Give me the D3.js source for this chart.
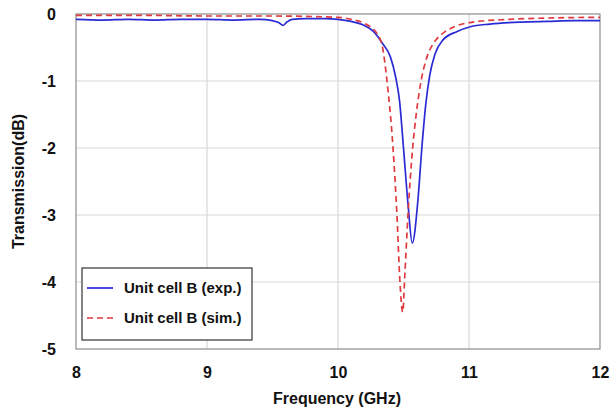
<!DOCTYPE html>
<html>
<head>
<meta charset="utf-8">
<script src="https://cdn.jsdelivr.net/npm/d3@7"></script>
<style>
  body { margin: 0; background: #fff; }
  text { font-family: "Liberation Sans", Arial, sans-serif; font-weight: bold; fill: #111; }
</style>
</head>
<body>
<svg id="chart" width="614" height="408"></svg>
<script>
// values
var xTicks = [8, 9, 10, 11, 12];
var yTicks = [0, -1, -2, -3, -4, -5];

var expFreq = [8.0, 8.2, 8.4, 8.6, 8.8, 9.0, 9.2, 9.4, 9.5, 9.55, 9.58, 9.61, 9.65, 9.75, 9.9,
  10.0, 10.1, 10.19, 10.27, 10.34, 10.40, 10.44, 10.47, 10.50, 10.535, 10.567,
  10.61, 10.64, 10.67, 10.70, 10.74, 10.80, 10.91, 11.01, 11.16, 11.4, 11.6, 11.8, 12.0];
var expVal = [-0.08, -0.09, -0.08, -0.09, -0.08, -0.08, -0.09, -0.08, -0.1, -0.13, -0.17, -0.12, -0.08, -0.07, -0.07,
  -0.08, -0.11, -0.16, -0.26, -0.44, -0.64, -0.94, -1.3, -2.0, -2.85, -3.42,
  -2.78, -2.0, -1.35, -0.92, -0.6, -0.39, -0.26, -0.19, -0.15, -0.12, -0.11, -0.1, -0.1];

var simFreq = [8.0, 8.5, 9.0, 9.5, 10.0, 10.1, 10.2, 10.3, 10.34, 10.374, 10.42, 10.45, 10.473, 10.494,
  10.51, 10.534, 10.57, 10.6, 10.634, 10.67, 10.71, 10.75, 10.82, 10.9, 11.03, 11.3, 11.6, 12.0];
var simVal = [-0.02, -0.02, -0.03, -0.03, -0.05, -0.08, -0.14, -0.3, -0.5, -1.0, -2.0, -3.0, -4.0, -4.45,
  -3.9, -3.0, -2.0, -1.45, -1.0, -0.7, -0.5, -0.38, -0.26, -0.18, -0.12, -0.08, -0.06, -0.05];

var seriesNames = ["Unit cell B (exp.)", "Unit cell B (sim.)"];
var seriesColors = ["#2b2bd6", "#e0393e"];

var margin = { left: 76, top: 14, right: 14, bottom: 59 };
var width = 614 - margin.left - margin.right,
    height = 408 - margin.top - margin.bottom;

var svg = d3.select("#chart");
var g = svg.append("g").attr("transform", "translate(" + margin.left + "," + margin.top + ")");

var x = d3.scaleLinear().domain([8, 12]).range([0, width]);
var y = d3.scaleLinear().domain([-5, 0]).range([height, 0]);

// grid
g.selectAll("line.vgrid").data(xTicks.slice(1, -1)).enter().append("line")
  .attr("x1", function(d) { return x(d); }).attr("x2", function(d) { return x(d); })
  .attr("y1", 0).attr("y2", height)
  .style("stroke", "#d8d8d8").style("stroke-width", 1.2);
g.selectAll("line.hgrid").data(yTicks.slice(1, -1)).enter().append("line")
  .attr("y1", function(d) { return y(d); }).attr("y2", function(d) { return y(d); })
  .attr("x1", 0).attr("x2", width)
  .style("stroke", "#d8d8d8").style("stroke-width", 1.2);

g.append("rect").attr("width", width).attr("height", height)
  .style("fill", "none").style("stroke", "#8c8c8c").style("stroke-width", 1.2);

// axes (labels only)
var xAxis = g.append("g").attr("transform", "translate(0," + height + ")")
  .call(d3.axisBottom(x).tickValues(xTicks).tickSize(0).tickPadding(18).tickFormat(d3.format("d")));
var yAxis = g.append("g")
  .call(d3.axisLeft(y).tickValues(yTicks).tickSize(0).tickPadding(20).tickFormat(function(d) { return d === 0 ? "0" : "-" + Math.abs(d); }));
[xAxis, yAxis].forEach(function(a) {
  a.select(".domain").remove();
  a.selectAll("text").style("font-size", "16px").style("font-family", null).attr("fill", null);
});

svg.append("text").attr("x", margin.left + width / 2 - 1).attr("y", 404)
  .attr("text-anchor", "middle").style("font-size", "16px").text("Frequency (GHz)");
svg.append("text").attr("transform", "translate(24," + (margin.top + height / 2) + ") rotate(-90)")
  .attr("text-anchor", "middle").style("font-size", "16px").text("Transmission(dB)");

// curves
var line = d3.line().curve(d3.curveMonotoneX)
  .x(function(d) { return x(d[0]); }).y(function(d) { return y(d[1]); });
var expData = d3.zip(expFreq, expVal), simData = d3.zip(simFreq, simVal);

g.append("path").datum(expData).attr("d", line)
  .style("fill", "none").style("stroke", seriesColors[0]).style("stroke-width", 1.7);
g.append("path").datum(simData).attr("d", line)
  .style("fill", "none").style("stroke", seriesColors[1]).style("stroke-width", 1.7)
  .style("stroke-dasharray", "6,4");

// legend
var lg = g.append("g").attr("transform", "translate(" + (82 - margin.left) + "," + (268 - margin.top) + ")");
lg.append("rect").attr("width", 170).attr("height", 72)
  .style("fill", "#fff").style("stroke", "#333").style("stroke-width", 1.2);
seriesNames.forEach(function(name, i) {
  var yy = 20 + i * 30;
  lg.append("line").attr("x1", 5).attr("x2", 31).attr("y1", yy).attr("y2", yy)
    .style("stroke", seriesColors[i]).style("stroke-width", 1.7)
    .style("stroke-dasharray", i ? "6,4" : null);
  lg.append("text").attr("x", 42).attr("y", yy + 5).style("font-size", "15px").text(name);
});
</script>
</body>
</html>
